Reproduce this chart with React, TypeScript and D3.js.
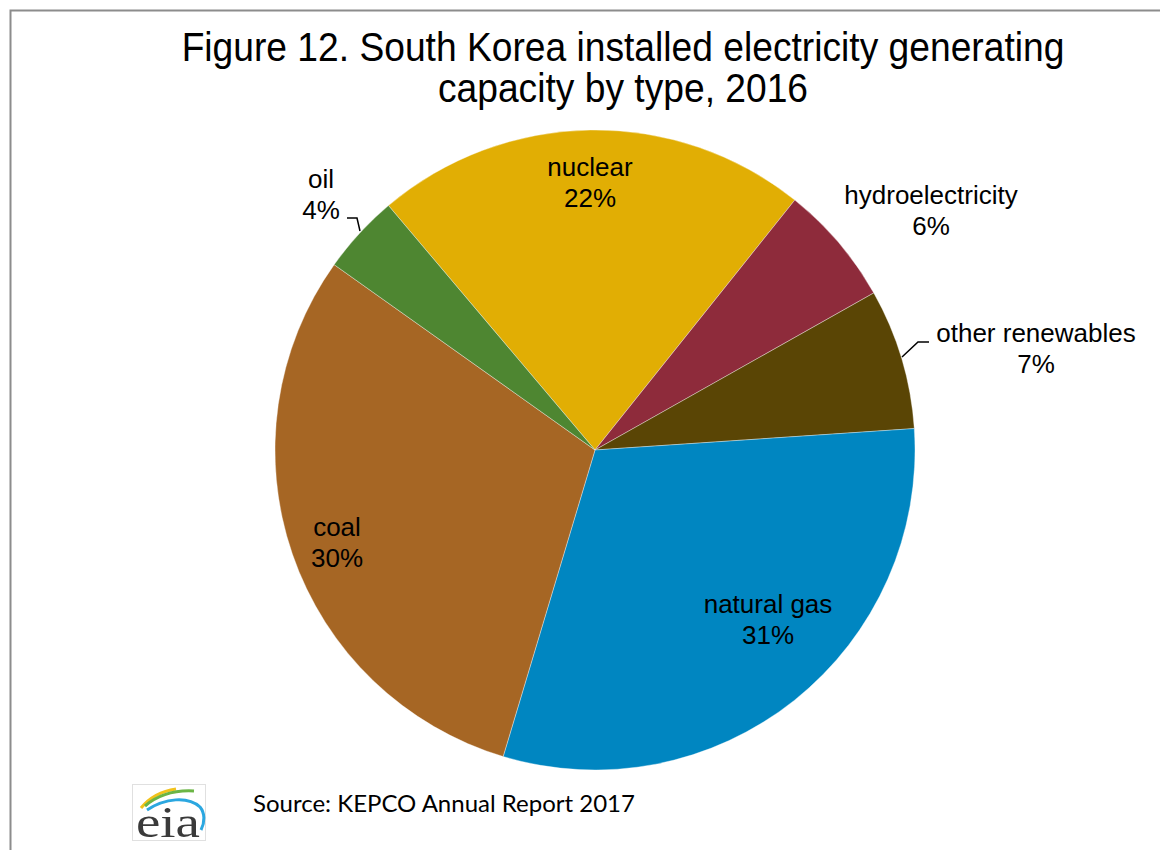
import React from "react";
import * as d3 from "d3";

const categories = ["nuclear", "hydroelectricity", "other renewables", "natural gas", "coal", "oil"];
const values = [21.9, 6.1, 7.1, 30.7, 30.2, 4.0];
const pctLabels = ["22%", "6%", "7%", "31%", "30%", "4%"];
const colors = ["#E1AE04", "#8E2B3B", "#5A4505", "#0086C1", "#A66624", "#4E8631"];
const titleLines = ["Figure 12. South Korea installed electricity generating", "capacity by type, 2016"];

const W = 1160;
const H = 850;
const cx = 595;
const cy = 450;
const R = 320;
const startDeg = -40.2;

// label anchor positions (center of the first label line)
const labelPos: Record<string, [number, number]> = {
  nuclear: [590, 167],
  hydroelectricity: [931, 195],
  "other renewables": [1036, 333],
  "natural gas": [768, 604],
  coal: [337, 527],
  oil: [321, 179],
};

export default function App() {
  const pie = d3
    .pie<number>()
    .sort(null)
    .startAngle((startDeg * Math.PI) / 180)
    .endAngle((startDeg * Math.PI) / 180 + 2 * Math.PI);
  const arcs = pie(values);
  const arcGen = d3.arc<d3.PieArcDatum<number>>().innerRadius(0).outerRadius(R);

  const font = "'Liberation Sans', Arial, sans-serif";

  return (
    <svg
      width={W}
      height={H}
      style={{ position: "absolute", left: 0, top: 0, background: "#fff" }}
    >
      <rect x={10.5} y={10.5} width={W + 20} height={H + 20} fill="#fff" stroke="#8c8c8c" strokeWidth={2} />
      {titleLines.map((t, i) => (
        <g key={i} transform={`translate(623,${61 + i * 40.5}) scale(1,1.1)`}>
          <text x={0} y={0} textAnchor="middle" fontFamily={font} fontSize={37.2} fill="#000">
            {t}
          </text>
        </g>
      ))}

      <g transform={`translate(${cx},${cy})`}>
        {arcs.map((a, i) => (
          <path key={categories[i]} d={arcGen(a) || ""} fill={colors[i]} stroke="#ffffff" strokeOpacity={0.45} strokeWidth={0.8} />
        ))}
      </g>

      {/* leader lines */}
      <path d="M347,218 L357,218 L360,231" fill="none" stroke="#000" strokeWidth={1.5} />
      <path d="M929,342 L918,342 L902,357" fill="none" stroke="#000" strokeWidth={1.5} />

      {categories.map((c, i) => {
        const [x, y] = labelPos[c];
        return (
          <g key={c} fontFamily={font} fontSize={26} fill="#000" textAnchor="middle">
            <text x={x} y={y + 9}>{c}</text>
            <text x={x} y={y + 40}>{pctLabels[i]}</text>
          </g>
        );
      })}

      <text x={253} y={812} fontFamily="Lato, 'Open Sans', sans-serif" fontSize={24} fill="#000">
        Source: KEPCO Annual Report 2017
      </text>

      {/* eia logo */}
      <g>
        <rect x={132.5} y={784.5} width={73} height={56} fill="#fff" stroke="#e0e0e0" strokeWidth={1} />
        <path d="M141,808 C150,797 162,791 176,789" fill="none" stroke="#F2C21B" strokeWidth={3} />
        <path d="M145,806 C158,795 176,790 194,791" fill="none" stroke="#6BB545" strokeWidth={3} />
        <path d="M147,810 C165,798 188,796 200,807 C205,813 205,822 201,830" fill="none" stroke="#2BA7E0" strokeWidth={3} />
        <text x={136} y={837} fontFamily="'Liberation Serif', 'DejaVu Serif', serif" fontSize={44} fill="#3a3a3a" textLength={64} lengthAdjust="spacingAndGlyphs">
          eia
        </text>
      </g>
    </svg>
  );
}
